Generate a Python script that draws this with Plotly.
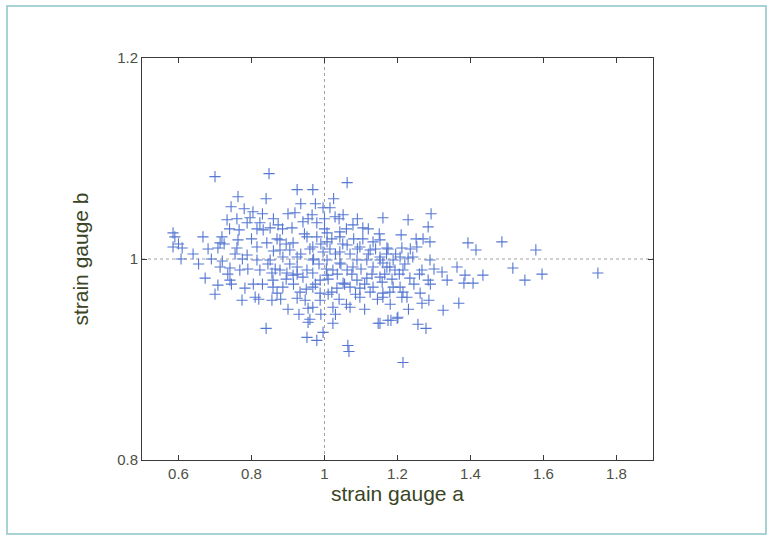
import plotly.graph_objects as go

# strain gauge readings
gauge_a = [
    1.160, 1.229, 1.292, 1.284, 1.210, 1.251, 1.289, 1.393, 1.415, 1.486,
    1.579, 1.363, 1.516, 1.322, 1.385, 1.336, 1.434, 1.382, 1.407, 1.549,
    1.596, 1.749, 1.325, 1.368, 1.267, 1.286, 1.256, 1.278, 1.201, 1.182,
    1.215, 1.226, 1.212,
    1.152, 1.171, 1.152, 1.160, 1.179, 1.193, 1.215, 1.234, 1.207, 1.188,
    1.215, 1.262, 1.284, 1.267, 1.289, 1.242, 1.229, 1.207, 1.188, 1.253,
    1.212, 1.160, 1.152, 1.158,
    0.700, 0.848, 0.925, 0.968, 1.062, 0.763, 0.840, 0.744, 0.733, 0.804,
    0.796, 0.585, 0.590, 0.610, 0.585, 0.607, 0.667, 0.719, 0.714, 0.681,
    0.708, 0.760, 0.763, 0.766, 0.788, 0.823, 0.832, 0.851, 0.873, 0.911,
    0.919, 0.941, 0.966, 0.979, 0.996, 1.015, 1.029, 1.051, 1.042, 1.078,
    1.105, 1.133, 1.174,
    0.673, 0.714, 0.741, 0.708, 0.782, 0.774, 0.810, 0.856, 0.840, 0.925,
    0.947, 0.955, 0.968, 0.988, 1.023, 0.955, 0.996, 0.952, 0.979, 1.064,
    1.067, 1.023, 1.070, 1.097, 1.147, 1.174, 1.199, 0.856, 0.859, 0.859,
    0.886, 0.870, 0.897, 0.914, 0.941, 0.968, 0.988, 1.007, 1.034, 1.051,
    1.070, 1.089, 1.116, 1.133, 1.152, 1.179, 1.133, 1.171, 1.078, 1.042,
    1.007, 0.968, 0.925, 0.886, 0.851, 0.815, 0.788, 1.062, 1.097, 1.125,
    0.979, 1.007, 0.952, 0.914, 0.878, 0.842, 0.815, 1.007, 1.042, 0.905,
    0.878, 0.968, 0.996, 1.042, 1.089, 1.116, 1.152, 1.062, 1.023, 0.952,
    0.925, 0.878, 0.823, 0.768, 0.741, 1.097, 1.125, 1.160, 1.020, 0.988,
    0.968, 0.933,
    0.655, 0.690, 0.720, 0.735, 0.700, 0.745, 0.755, 0.775, 0.790, 0.805,
    0.820, 0.830, 0.845, 0.860, 0.870, 0.885, 0.895, 0.905, 0.915, 0.925,
    0.935, 0.945, 0.955, 0.960, 0.970, 0.975, 0.985, 0.990, 1.000, 1.005,
    1.010, 1.015, 1.020, 1.030, 1.035, 1.045, 1.050, 1.055, 1.060, 1.070,
    1.075, 1.080, 1.085, 1.090, 1.100, 1.105, 1.110, 1.120, 1.130, 1.140,
    1.145, 1.150, 1.165, 1.170, 1.185, 1.195, 1.205, 1.220, 1.235, 1.245,
    1.260, 1.270, 0.880, 0.900, 0.930, 0.960, 0.990, 1.030, 1.060, 1.110,
    0.800, 0.815, 0.830, 0.780, 0.760, 0.740, 0.725, 0.860, 0.900, 0.935,
    0.975, 1.025, 1.000, 1.040, 1.090, 1.120, 0.950, 0.895, 0.865, 1.010,
    1.040, 1.180, 1.230, 1.290, 1.300, 0.640, 0.600,
]
gauge_b = [
    1.041, 1.039, 1.045, 1.032, 1.024, 1.020, 1.017, 1.016, 1.009, 1.017,
    1.009, 0.992, 0.991, 0.987, 0.984, 0.979, 0.984, 0.976, 0.976, 0.979,
    0.985, 0.986, 0.949, 0.956, 0.956, 0.959, 0.935, 0.931, 0.942, 0.939,
    0.897, 0.962, 0.962,
    1.019, 1.011, 1.002, 0.996, 0.992, 0.989, 0.989, 0.981, 0.972, 0.972,
    0.967, 0.966, 0.979, 0.989, 0.999, 1.002, 1.001, 1.002, 0.999, 1.012,
    1.011, 0.966, 0.936, 0.977,
    1.082, 1.085, 1.069, 1.069, 1.076, 1.062, 1.060, 1.052, 1.039, 1.047,
    1.041, 1.026, 1.022, 1.011, 1.012, 1.000, 1.022, 1.022, 1.016, 1.010,
    1.011, 1.011, 1.019, 1.029, 1.036, 1.036, 1.029, 1.031, 1.034, 1.031,
    1.046, 1.037, 1.044, 1.036, 1.051, 1.051, 1.042, 1.044, 1.027, 1.034,
    1.031, 1.017, 1.010,
    0.981, 0.992, 0.979, 0.974, 0.971, 0.959, 0.962, 0.959, 0.931, 0.961,
    0.959, 0.951, 0.952, 0.959, 0.952, 0.937, 0.927, 0.922, 0.919, 0.914,
    0.908, 0.936, 0.952, 0.962, 0.936, 0.939, 0.941, 0.986, 0.979, 0.972,
    0.972, 0.966, 0.986, 0.984, 0.982, 0.986, 0.979, 0.984, 0.971, 0.976,
    0.972, 0.979, 0.981, 0.972, 0.982, 0.967, 0.992, 0.992, 0.992, 0.996,
    0.999, 0.999, 1.002, 1.002, 0.999, 0.999, 1.004, 1.014, 1.012, 1.009,
    1.022, 1.017, 1.022, 1.016, 1.019, 1.016, 1.012, 1.026, 1.022, 1.009,
    1.009, 1.012, 1.007, 1.007, 0.999, 0.999, 0.999, 0.989, 0.989, 0.989,
    0.992, 0.989, 0.989, 0.989, 0.991, 0.971, 0.967, 0.962, 0.967, 0.966,
    0.972, 0.967,
    0.995, 1.000, 0.998, 0.985, 0.965, 0.975, 1.005, 1.000, 0.990, 0.975,
    0.960, 0.975, 0.995, 1.008, 1.020, 1.030, 1.015, 0.995, 0.975, 0.985,
    1.005, 1.025, 1.040, 1.010, 1.000, 0.975, 0.995, 1.015, 1.030, 0.990,
    0.965, 1.010, 1.020, 1.005, 0.985, 0.995, 1.015, 0.975, 1.030, 1.005,
    0.985, 1.020, 0.965, 1.010, 0.990, 1.020, 0.975, 1.005, 0.985, 1.010,
    0.960, 1.025, 0.985, 1.005, 0.980, 1.005, 0.985, 0.995, 1.010, 0.975,
    0.985, 1.020, 0.960, 0.950, 0.945, 0.940, 0.945, 0.945, 0.955, 0.950,
    1.020, 1.030, 1.045, 1.050, 1.040, 1.030, 1.015, 1.040, 1.045, 1.055,
    1.055, 1.060, 1.040, 1.040, 1.040, 1.030, 0.970, 0.980, 0.990, 0.980,
    0.960, 0.955, 0.950, 0.975, 0.990, 1.005, 1.015,
]

x_ticks = [0.6, 0.8, 1, 1.2, 1.4, 1.6, 1.8]
x_tick_labels = ["0.6", "0.8", "1", "1.2", "1.4", "1.6", "1.8"]
y_ticks = [0.8, 1, 1.2]
y_tick_labels = ["0.8", "1", "1.2"]

FONT = "Liberation Sans, Arial, Helvetica, sans-serif"

fig = go.Figure()
fig.add_trace(go.Scatter(
    x=gauge_a, y=gauge_b, mode="markers",
    marker=dict(symbol="cross-thin", size=8,
                line=dict(color="#5577d2", width=1.1)),
    showlegend=False, hoverinfo="x+y",
))

axis_common = dict(
    showgrid=False, zeroline=False, showline=True, linecolor="#3a3a3a",
    linewidth=1, mirror="ticks", ticks="inside", ticklen=5, tickwidth=1,
    tickcolor="#3a3a3a", tickfont=dict(family=FONT, size=15, color="#4d5045"),
)

fig.update_layout(
    width=771, height=539,
    paper_bgcolor="white", plot_bgcolor="white",
    margin=dict(l=142, r=118, t=58, b=79),
    font=dict(family=FONT),
    xaxis=dict(range=[0.5, 1.9], tickvals=x_ticks, ticktext=x_tick_labels,
               title=dict(text="strain gauge a", standoff=0,
                          font=dict(family=FONT, size=21, color="#3a4526")),
               **axis_common),
    yaxis=dict(range=[0.8, 1.2], tickvals=y_ticks, ticktext=y_tick_labels,
               title=dict(text="strain gauge b", standoff=22,
                          font=dict(family=FONT, size=21, color="#3a4526")),
               **axis_common),
    shapes=[
        dict(type="line", xref="x", yref="paper", x0=1, x1=1, y0=0, y1=1,
             line=dict(color="#a0a0a0", width=1, dash="dot"), layer="below"),
        dict(type="line", xref="paper", yref="y", x0=0, x1=1, y0=1, y1=1,
             line=dict(color="#a0a0a0", width=1, dash="dot"), layer="below"),
        dict(type="rect", xref="paper", yref="paper",
             x0=-0.2642, x1=1.2211, y0=-0.1841, y1=1.1294,
             line=dict(color="#8cc4c8", width=1.5)),
    ],
)

fig.write_html("out.html",
               config={"displayModeBar": False},
               post_script="document.body.style.margin='0px';"
                           "document.body.style.overflow='hidden';")
